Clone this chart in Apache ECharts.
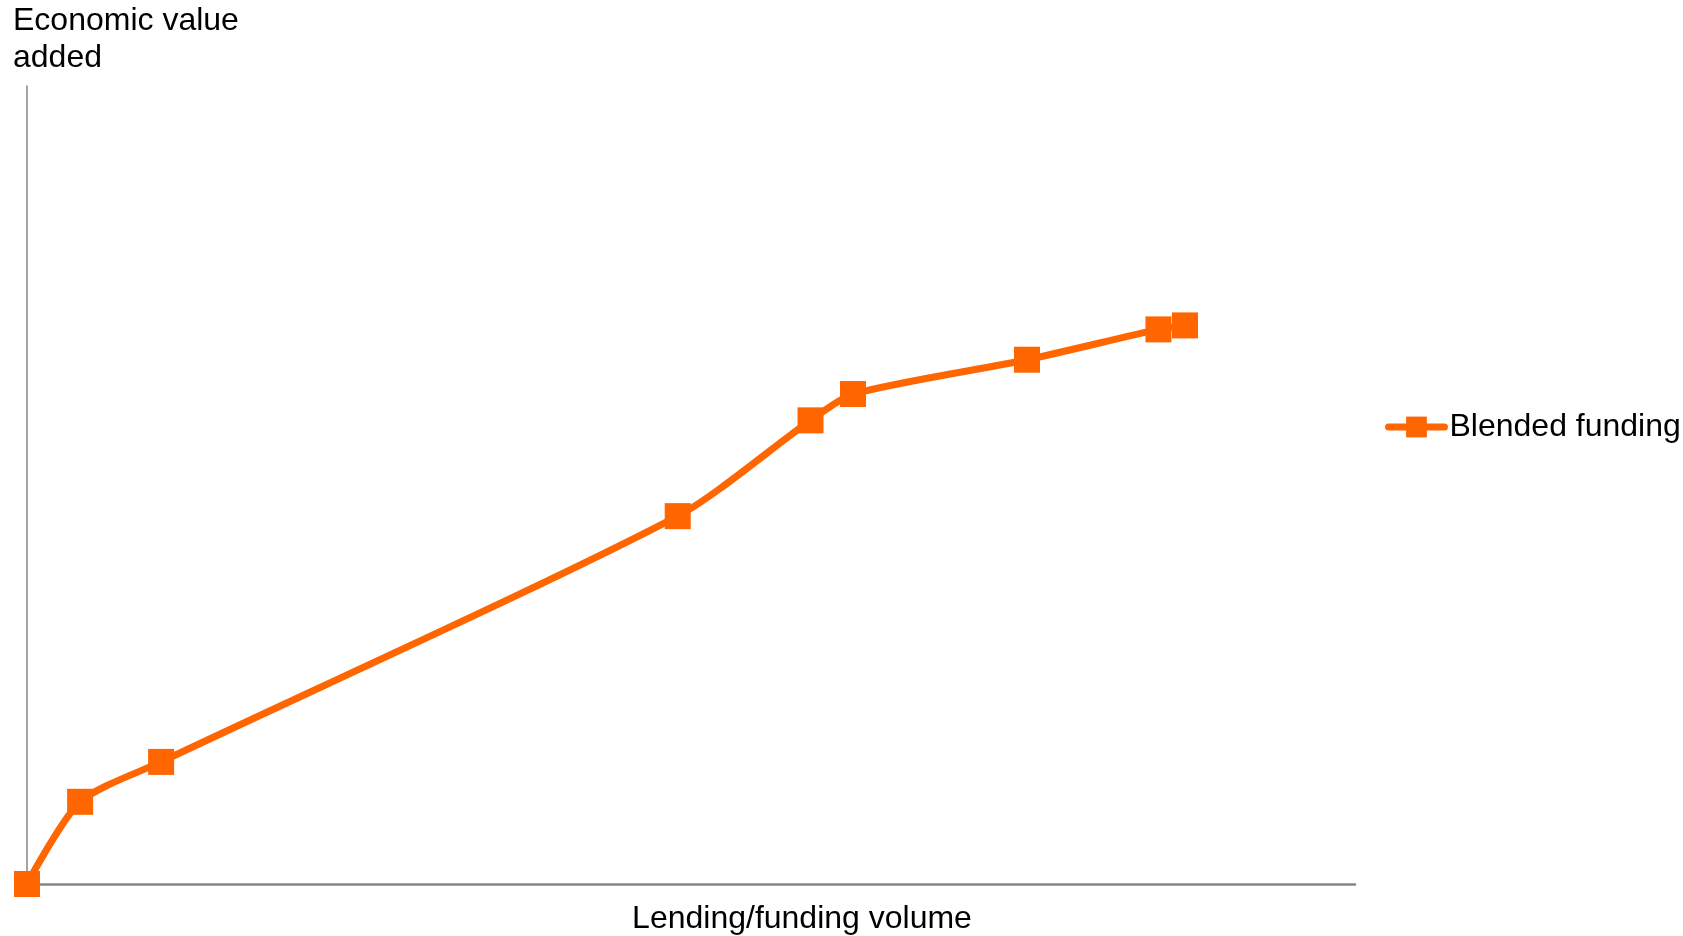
<!DOCTYPE html>
<html>
<head>
<meta charset="utf-8">
<script src="https://cdn.jsdelivr.net/npm/echarts@6/dist/echarts.min.js"></script>
<style>
html,body{margin:0;padding:0;background:#fff;}
#chart{width:1683px;height:936px;}
</style>
</head>
<body>
<div id="chart"></div>
<script>
const seriesName = 'Blended funding';
const xTitle = 'Lending/funding volume';
const yTitle = 'Economic value\nadded';
const volume = [0, 4.0, 10.1, 49.0, 59.0, 62.2, 75.3, 85.2, 87.2];
const valueAdded = [0, 10.3, 15.3, 46.1, 58.1, 61.4, 65.7, 69.5, 70.0];

const points = volume.map((v, i) => [v, valueAdded[i]]);
const font = '"Liberation Sans", Arial, sans-serif';

const chart = echarts.init(document.getElementById('chart'));
chart.setOption({
  animation: false,
  backgroundColor: '#ffffff',
  textStyle: { fontFamily: font },
  grid: { left: 27, right: 328, top: 86, bottom: 52, containLabel: false, outerBoundsMode: 'none' },
  legend: {
    left: 1380, top: 406,
    itemWidth: 56, itemHeight: 26, itemGap: 6,
    lineStyle: { width: 7 },
    textStyle: { fontSize: 32, color: '#000', fontFamily: font },
    data: [seriesName]
  },
  xAxis: {
    type: 'value', min: 0, max: 100,
    name: xTitle, nameLocation: 'middle', nameGap: 35,
    nameTextStyle: { fontSize: 32, color: '#000', fontFamily: font, verticalAlign: 'middle', padding: [0, 0, 0, 222] },
    axisLine: { show: true, lineStyle: { color: '#868686', width: 2.5 } },
    axisTick: { show: false }, axisLabel: { show: false }, splitLine: { show: false }
  },
  yAxis: {
    type: 'value', min: 0, max: 100,
    name: yTitle, nameLocation: 'end', nameGap: 9,
    nameTextStyle: { fontSize: 32, lineHeight: 37, color: '#000', fontFamily: font,
      align: 'left', verticalAlign: 'bottom', padding: [0, 0, 0, -14] },
    axisLine: { show: true, lineStyle: { color: '#868686', width: 1.5 } },
    axisTick: { show: false }, axisLabel: { show: false }, splitLine: { show: false }
  },
  series: [{
    name: seriesName,
    type: 'line',
    data: points,
    smooth: 0.25,
    symbol: 'rect',
    symbolSize: 26,
    lineStyle: { color: '#FF6600', width: 7, cap: 'round' },
    itemStyle: { color: '#FF6600' },
    z: 5
  }]
});
</script>
</body>
</html>
